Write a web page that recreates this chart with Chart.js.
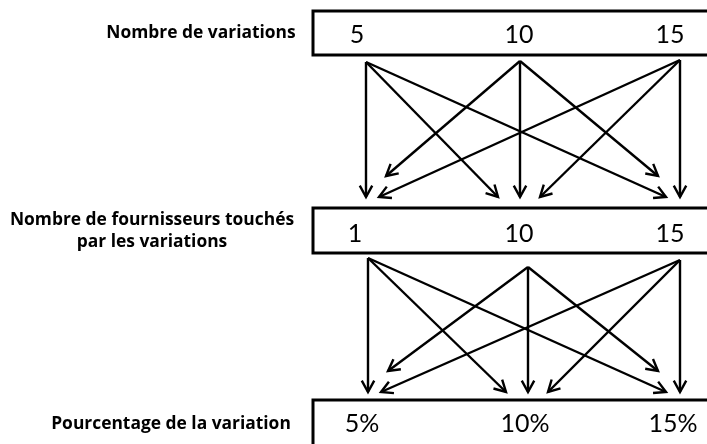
<!DOCTYPE html>
<html>
<head>
<meta charset="utf-8">
<script src="https://cdn.jsdelivr.net/npm/chart.js@4.4.1/dist/chart.umd.min.js"></script>
<style>
  html, body { margin: 0; padding: 0; background: #fff; }
  #wrap { width: 707px; height: 444px; }
</style>
</head>
<body>
<div id="wrap"><canvas id="c"></canvas></div>
<script>
// contenu du schéma
const rowTitles = [
  ["Nombre de variations"],
  ["Nombre de fournisseurs touchés", "par les variations"],
  ["Pourcentage de la variation"]
];
const variations = ["5", "10", "15"];
const fournisseurs = ["1", "10", "15"];
const pourcentages = ["5%", "10%", "15%"];
const rows = [variations, fournisseurs, pourcentages];

// chaque niveau est relié à chaque valeur du niveau suivant
const links = [];
for (let a = 0; a < 3; a++) for (let b = 0; b < 3; b++) links.push([a, b]);

// mise en page (pixels du canevas)
const boxes = [[313, 11, 55], [313, 208, 253], [313, 400, 455]];  // x, haut, bas
const labelX = [[357, 519, 670], [355, 519, 670], [362, 525, 673]];
const labelY = [35, 234, 424];
const titleX = [201, 152, 171];
const titleY = [[33], [220, 242], [424]];
const stages = [
  { x: [366, 520, 680], y0: [62, 61, 60], y1: 197 },
  { x: [368, 528, 680], y0: [258, 267, 260], y1: 392 }
];

function tip(st, a, b) {
  const d = b - a;
  let x = st.x[b];
  if (d > 0) x -= d === 1 ? 22 : 14;
  if (d < 0) x += d === -1 ? 20 : 13;
  const y = st.y1 - (a === 1 && b !== 1 ? 21 : 0);
  return { x, y };
}

const datasets = [];
stages.forEach((st) => {
  links.forEach(([a, b]) => {
    datasets.push({
      data: [{ x: st.x[a], y: st.y0[a] }, tip(st, a, b)],
      showLine: true,
      borderColor: "#000",
      borderWidth: 2.4,
      pointRadius: 0
    });
  });
});

const diagram = {
  id: "diagram",
  afterDatasetsDraw(chart) {
    const { ctx, scales: { x, y } } = chart;
    ctx.save();
    ctx.strokeStyle = "#000";
    ctx.fillStyle = "#000";

    // boîtes
    ctx.lineWidth = 3;
    boxes.forEach(([bx, top, bot]) => {
      ctx.strokeRect(x.getPixelForValue(bx), y.getPixelForValue(top),
        x.getPixelForValue(730) - x.getPixelForValue(bx),
        y.getPixelForValue(bot) - y.getPixelForValue(top));
    });

    // pointes de flèches
    ctx.lineWidth = 2.4;
    chart.data.datasets.forEach((ds, i) => {
      const pts = chart.getDatasetMeta(i).data;
      const p0 = pts[0], p1 = pts[1];
      const ang = Math.atan2(p1.y - p0.y, p1.x - p0.x);
      const len = 13, spread = 0.5;
      ctx.beginPath();
      ctx.moveTo(p1.x - len * Math.cos(ang - spread), p1.y - len * Math.sin(ang - spread));
      ctx.lineTo(p1.x, p1.y);
      ctx.lineTo(p1.x - len * Math.cos(ang + spread), p1.y - len * Math.sin(ang + spread));
      ctx.stroke();
    });

    // valeurs
    ctx.textAlign = "center";
    ctx.textBaseline = "middle";
    ctx.font = "25px Lato, 'Open Sans', sans-serif";
    rows.forEach((vals, r) => {
      vals.forEach((v, k) => {
        ctx.fillText(v, x.getPixelForValue(labelX[r][k]), y.getPixelForValue(labelY[r]));
      });
    });

    // titres
    ctx.font = "bold 17.4px 'Open Sans', sans-serif";
    rowTitles.forEach((lines, r) => {
      lines.forEach((t, k) => {
        ctx.fillText(t, x.getPixelForValue(titleX[r]), y.getPixelForValue(titleY[r][k]));
      });
    });
    ctx.restore();
  }
};

new Chart(document.getElementById("c"), {
  type: "scatter",
  data: { datasets },
  options: {
    responsive: true,
    maintainAspectRatio: false,
    animation: false,
    layout: { padding: 0 },
    plugins: { legend: { display: false }, tooltip: { enabled: false } },
    scales: {
      x: { type: "linear", min: 0, max: 707, display: false },
      y: { type: "linear", min: 0, max: 444, reverse: true, display: false }
    }
  },
  plugins: [diagram]
});
</script>
</body>
</html>
